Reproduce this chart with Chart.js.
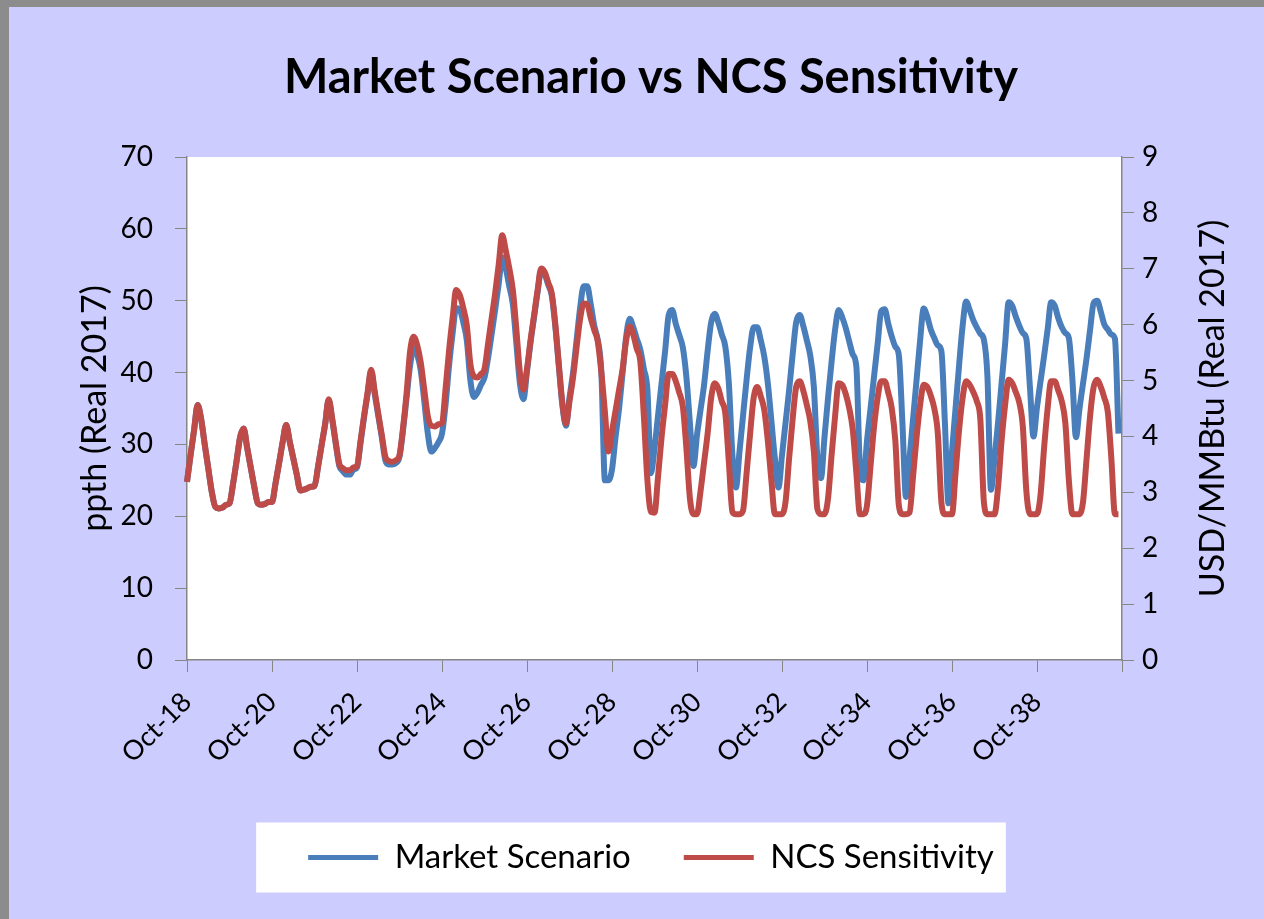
<!DOCTYPE html>
<html lang="en">
<head>
  <meta charset="UTF-8">
  <title>Market Scenario vs NCS Sensitivity</title>
  <script src="https://cdn.jsdelivr.net/npm/chart.js"></script>
  <style>
    html, body { margin: 0; padding: 0; background: #ccccff; }
    #wrap { width: 1264px; height: 919px; }
  </style>
</head>
<body>
  <div id="wrap"><canvas id="chart" width="1264" height="919"></canvas></div>

  <script>
    // Month categories Oct-18 ... Oct-40 (last one only closes the axis)
    const monthNames = ['Jan','Feb','Mar','Apr','May','Jun','Jul','Aug','Sep','Oct','Nov','Dec'];
    const categories = [];
    for (let k = 0; k <= 264; k++) {
      categories.push(monthNames[(9 + k) % 12] + '-' + (18 + Math.floor((9 + k) / 12)));
    }

    // Labels shown under the x axis
    const tickLabels = ['Oct-18','Oct-20','Oct-22','Oct-24','Oct-26','Oct-28',
                        'Oct-30','Oct-32','Oct-34','Oct-36','Oct-38'];

    // Market Scenario, ppth (Real 2017), one line per gas year Oct..Sep
    const marketScenario = [
      24.8, 28.5, 32.0, 35.5, 33.5, 30.0, 26.7, 23.4, 21.3, 21.1, 21.2, 21.6,
      21.8, 24.5, 27.7, 31.0, 32.2, 29.5, 26.8, 24.1, 21.8, 21.6, 21.7, 22.0,
      22.0, 24.6, 27.4, 30.3, 32.7, 30.4, 28.1, 25.8, 23.6, 23.7, 23.9, 24.1,
      24.2, 26.9, 29.9, 32.8, 36.2, 33.4, 30.1, 27.0, 26.3, 25.8, 25.8, 26.5,
      26.8, 30.2, 33.8, 37.0, 40.1, 37.0, 34.0, 31.0, 27.8, 27.2, 27.2, 27.4,
      28.3, 32.0, 36.5, 41.0, 43.4, 42.5, 40.3, 36.0, 31.5, 29.0, 29.5, 30.3,
      31.5, 35.5, 41.0, 45.5, 49.0, 48.8, 47.0, 44.5, 39.0, 36.6, 37.2, 38.3,
      39.3, 42.0, 45.3, 48.7, 52.3, 56.0, 54.5, 52.0, 49.5, 44.0, 38.5, 36.3,
      40.2, 44.2, 47.7, 51.2, 54.2, 53.7, 52.2, 50.7, 46.4, 40.8, 35.4, 32.6,
      36.5, 40.0, 44.5, 49.0, 52.0, 52.0, 49.5, 46.5, 44.5, 40.0, 25.0, 25.0,
      26.5, 31.0, 35.0, 40.0, 45.0, 47.5, 46.3, 44.7, 43.2, 40.5, 37.6, 26.0,
      29.5, 34.0, 38.5, 43.0, 48.0, 48.7, 46.8, 45.2, 43.5, 39.4, 33.0, 27.0,
      31.3, 34.8, 38.3, 43.0, 47.0, 48.2, 47.0, 45.3, 43.6, 38.5, 28.5, 24.0,
      29.0, 34.0, 39.0, 43.5, 46.3, 46.3, 44.5, 42.2, 38.5, 33.3, 28.0, 24.0,
      28.5, 33.0, 37.5, 42.5, 47.0, 48.0, 46.5, 44.5, 42.3, 38.0, 28.0, 25.3,
      31.0, 36.5, 41.5, 46.0, 48.7, 47.7, 46.2, 44.3, 42.5, 40.8, 27.0, 25.0,
      30.5, 35.0, 39.5, 44.0, 48.5, 48.8, 46.8, 45.0, 43.6, 42.4, 33.0, 22.7,
      28.0, 33.5, 39.0, 44.5, 48.9, 47.8, 46.0, 44.8, 43.8, 43.0, 33.0, 21.8,
      29.0, 35.0, 41.0, 46.5, 49.9, 48.7, 47.3, 46.3, 45.4, 44.6, 39.5, 23.7,
      28.0, 33.0, 38.5, 44.0, 49.8, 49.3, 47.8, 46.5, 45.5, 44.7, 38.0, 31.1,
      35.2, 38.8, 42.3, 46.0, 49.8, 49.3, 47.6, 46.3, 45.5, 44.8, 39.0, 31.0,
      35.0, 38.5, 42.0, 46.0, 49.7, 50.0, 48.5, 46.7, 46.0, 45.3, 44.7, 31.5
    ];

    // NCS Sensitivity, same units
    const ncsSensitivity = [
      24.8, 28.5, 32.0, 35.5, 33.5, 30.0, 26.7, 23.4, 21.3, 21.1, 21.2, 21.6,
      21.8, 24.5, 27.7, 31.0, 32.2, 29.5, 26.8, 24.1, 21.8, 21.6, 21.7, 22.0,
      22.0, 24.6, 27.4, 30.3, 32.7, 30.4, 28.1, 25.8, 23.6, 23.7, 23.9, 24.1,
      24.2, 26.9, 29.9, 32.8, 36.3, 33.6, 30.3, 27.3, 26.7, 26.4, 26.4, 26.8,
      27.0, 30.5, 34.0, 37.3, 40.4, 37.4, 34.3, 31.3, 28.3, 27.7, 27.6, 27.8,
      28.5, 32.3, 37.1, 43.0, 45.0, 43.8, 41.4, 37.6, 33.9, 32.6, 32.5, 32.8,
      33.0, 37.7, 43.1, 47.6, 51.5, 50.8, 49.0, 46.6, 41.2, 39.5, 39.3, 39.8,
      40.5, 44.0, 47.5, 51.0, 55.0, 59.1, 57.0, 54.5, 51.5, 46.0, 40.0, 37.6,
      40.5, 44.5, 48.0, 51.5, 54.5, 54.0, 52.5, 51.0, 46.7, 41.1, 35.7, 32.9,
      36.0, 39.3, 43.5, 47.5, 49.6, 49.5, 47.6, 45.9, 44.3, 40.0, 34.5, 29.0,
      31.8, 34.7, 37.6, 40.5, 44.5, 46.4, 45.3, 43.3, 41.5, 33.9, 25.0, 20.6,
      20.5, 25.5, 31.0, 35.5, 39.8, 39.8, 38.8, 37.2, 35.3, 29.5, 22.5, 20.3,
      20.3, 23.5, 27.5, 31.5, 36.5, 38.5, 37.8, 36.0, 34.3, 27.5, 20.6, 20.3,
      20.3, 20.8, 26.0, 31.5, 36.5, 38.0, 36.7, 34.8, 30.5, 25.0, 20.3, 20.3,
      20.3, 22.0, 28.0, 33.5, 38.0, 38.8, 37.5, 35.5, 33.2, 29.0, 21.0, 20.3,
      20.3, 22.5, 28.5, 34.0, 38.5, 38.3, 37.0, 35.0, 32.0, 26.0, 20.3, 20.3,
      21.5, 27.0, 32.5, 36.5, 38.8, 38.8, 37.2, 35.0, 30.5, 21.5, 20.3, 20.3,
      20.5, 25.5, 31.0, 35.5, 38.3, 38.0, 36.8, 35.0, 31.5, 22.0, 20.3, 20.3,
      20.3, 26.0, 32.0, 36.5, 38.8, 38.3, 37.3, 36.0, 33.5, 22.0, 20.3, 20.3,
      20.3, 24.0, 30.5, 35.5, 39.0, 38.5, 37.3, 35.8, 32.5, 23.5, 20.3, 20.3,
      20.3, 23.0, 29.5, 35.0, 38.8, 38.8, 37.5, 36.0, 33.0, 25.0, 20.3, 20.3,
      20.3, 22.0, 28.0, 34.0, 38.0, 39.0, 38.0, 36.5, 34.5, 28.0, 20.3, 20.3
    ];

    const FONT = 'Lato';
    const axisGrey = '#868686';

    // background, white plot area, legend box, right axis title
    const framePlugin = {
      id: 'frame',
      beforeDraw(chart) {
        const { ctx, width, height, chartArea: a } = chart;
        ctx.save();
        ctx.fillStyle = '#ccccff';
        ctx.fillRect(0, 0, width, height);
        ctx.fillStyle = '#8c8c8c';
        ctx.fillRect(0, 0, width, 7);
        ctx.fillRect(0, 0, 9, height);
        ctx.fillStyle = '#ffffff';
        ctx.fillRect(a.left, a.top, a.right - a.left, a.bottom - a.top);
        const hb = chart.legend.legendHitBoxes;
        if (hb && hb.length) {
          const first = hb[0], last = hb[hb.length - 1];
          const cy = first.top + first.height / 2;
          const x0 = first.left - 52;
          ctx.fillRect(x0, cy - 35, last.left + last.width + 12 - x0, 70);
        }
        ctx.restore();
      },
      afterDraw(chart) {
        const { ctx, chartArea: a } = chart;
        const s = chart.scales.y2;
        ctx.save();
        ctx.translate(s.right - 51, (a.top + a.bottom) / 2);
        ctx.rotate(-Math.PI / 2);
        ctx.font = '34px ' + FONT;
        ctx.fillStyle = '#000';
        ctx.textAlign = 'center';
        ctx.textBaseline = 'middle';
        ctx.fillText('USD/MMBtu (Real 2017)', 0, 0);
        ctx.restore();
      }
    };

    const ctx = document.getElementById('chart').getContext('2d');
    const chart = new Chart(ctx, {
      type: 'line',
      data: {
        labels: categories,
        datasets: [
          {
            label: 'Market Scenario',
            data: marketScenario,
            borderColor: '#4a7ebb',
            backgroundColor: '#4a7ebb',
            borderWidth: 6,
            pointRadius: 0,
            cubicInterpolationMode: 'monotone',
            order: 1
          },
          {
            label: 'NCS Sensitivity',
            data: ncsSensitivity,
            borderColor: '#be4b48',
            backgroundColor: '#be4b48',
            borderWidth: 6,
            pointRadius: 0,
            cubicInterpolationMode: 'monotone',
            order: 0
          }
        ]
      },
      options: {
        responsive: false,
        animation: false,
        devicePixelRatio: 1,
        layout: { padding: { left: 38, right: 0, top: 0, bottom: 35 } },
        scales: {
          x: {
            offset: false,
            afterFit: s => { s.height = 128; },
            border: { display: true, color: axisGrey, width: 1.5 },
            grid: {
              drawOnChartArea: false,
              tickLength: 12,
              color: c => (c.index % 24 === 0 ? axisGrey : 'rgba(0,0,0,0)')
            },
            ticks: {
              autoSkip: false,
              maxRotation: 45,
              minRotation: 45,
              padding: 14,
              color: '#000',
              font: { family: FONT, size: 27 },
              callback: function (v, i) {
                const lab = categories[i];
                return tickLabels.includes(lab) ? lab : '';
              }
            }
          },
          y: {
            position: 'left',
            min: 0,
            max: 70,
            afterFit: s => { s.width = 149; },
            border: { display: true, color: axisGrey, width: 1.5 },
            grid: { drawOnChartArea: false, tickLength: 12, color: axisGrey },
            ticks: { stepSize: 10, padding: 22, color: '#000', font: { family: FONT, size: 28 } },
            title: {
              display: true,
              text: 'ppth (Real 2017)',
              color: '#000',
              font: { family: FONT, size: 34 },
              padding: { top: 37, bottom: 0 }
            }
          },
          y2: {
            position: 'right',
            min: 0,
            max: 9,
            afterFit: s => { s.width = 142; },
            border: { display: true, color: axisGrey, width: 1.5 },
            grid: { drawOnChartArea: false, tickLength: 12, color: axisGrey },
            ticks: { stepSize: 1, padding: 8, color: '#000', font: { family: FONT, size: 28 } }
          }
        },
        plugins: {
          title: {
            display: true,
            text: 'Market Scenario vs NCS Sensitivity',
            color: '#000',
            font: { family: FONT, size: 47, weight: 'bold' },
            padding: { top: 50, bottom: 50.6 }
          },
          legend: {
            position: 'bottom',
            labels: {
              color: '#000',
              font: { family: FONT, size: 33 },
              boxWidth: 70,
              boxHeight: 5,
              padding: 53,
              sort: (a, b) => a.datasetIndex - b.datasetIndex,
              generateLabels: function (c) {
                const items = Chart.defaults.plugins.legend.labels.generateLabels(c);
                items.forEach(it => { it.fillStyle = it.strokeStyle; it.lineWidth = 0; });
                return items;
              }
            }
          },
          tooltip: { enabled: false }
        }
      },
      plugins: [framePlugin]
    });
  </script>
</body>
</html>
